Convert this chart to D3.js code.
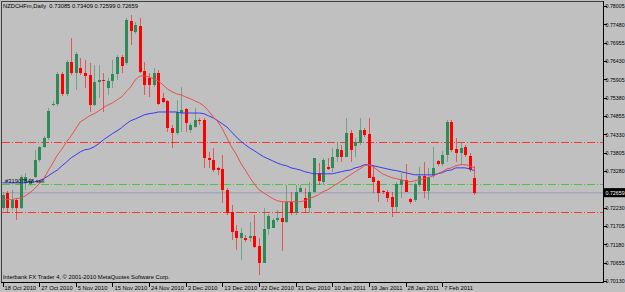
<!DOCTYPE html>
<html lang="en">
<head>
<meta charset="UTF-8">
<title>NZDCHFm, Daily</title>
<script src="https://d3js.org/d3.v7.min.js"></script>
<style>
  body { margin: 0; background: #c0c0c0; overflow: hidden; }
  svg { display: block; }
  text { font-family: "Liberation Sans", Arial, sans-serif; font-size: 5.8px; }
  .axis path, .axis line { stroke: #000; shape-rendering: crispEdges; }
</style>
</head>
<body>
<script>
// daily bars, 18 Oct 2010 .. 15 Feb 2011
const opens = [
  .72228, .72657, .72228, .72457, .72228, .72943, .72915, .73115, .73601, .73973,
  .74230, .75174, .75203, .76061, .75489, .76404, .76089, .76232, .76089, .76032,
  .75174, .75832, .75889, .75660, .75860, .76061, .76547, .76375, .77576, .77262,
  .77433, .76146, .75946, .75746, .76089, .75374, .75288, .74516, .74373, .74945,
  .75060, .74459, .74545, .74745, .74745, .73658, .73601, .73372, .73344, .72743,
  .72114, .71570, .71370, .71370, .71370, .71427, .71141, .70655, .71628, .71656,
  .71885, .71942, .71828, .72400, .72085, .72686, .72514, .72228, .72686, .73229,
  .72972, .73401, .73372, .73687, .73887, .73687, .74373, .74001, .74087, .74459,
  .74345, .73115, .73000, .72714, .72686, .72543, .72257, .72886, .73029, .72486,
  .72457, .72886, .73143, .72714, .73143, .73572, .73487, .73744, .74688, .73916,
  .73801, .73973, .73715, .73085
];
const highs = [
  .72686, .72714, .72743, .72514, .73172, .73229, .73086, .73887, .74001, .74287,
  .75088, .75288, .76118, .76118, .76461, .77090, .76690, .76518, .76461, .76375,
  .76318, .76318, .76089, .75946, .76461, .76604, .76604, .77662, .77748, .77548,
  .77662, .76404, .76089, .76232, .76175, .75517, .75317, .74602, .75317, .75689,
  .75088, .74659, .75088, .74802, .74802, .73830, .73944, .73401, .73744, .72800,
  .72314, .71742, .71656, .71456, .71828, .72028, .71370, .72228, .72057, .71942,
  .72171, .72400, .72886, .72686, .72886, .72886, .72800, .72972, .73658, .73515,
  .73658, .73658, .73944, .74116, .74030, .74802, .74459, .74230, .74802, .74516,
  .74802, .73458, .73029, .72743, .72743, .72686, .72972, .73229, .73487, .72514,
  .72972, .73401, .73544, .73372, .73973, .73601, .73858, .74745, .74745, .74230,
  .74116, .74030, .73801, .73409
];
const lows = [
  .72171, .72085, .72171, .71885, .72200, .72743, .72857, .73086, .73544, .73944,
  .74173, .75145, .75145, .75431, .75431, .76032, .75603, .76032, .75660, .74974,
  .75145, .75374, .74974, .75460, .75660, .75889, .76089, .76318, .76890, .77205,
  .76089, .75460, .75403, .75689, .75174, .75231, .74402, .73944, .74316, .74402,
  .74402, .74373, .74516, .74602, .73372, .73372, .73258, .73172, .72371, .72028,
  .71313, .71027, .70741, .71256, .71256, .71084, .70312, .70655, .71456, .71656,
  .71828, .70998, .71799, .72028, .72028, .72686, .72085, .72085, .72657, .72886,
  .72886, .73315, .73258, .73544, .73544, .73687, .73544, .73687, .74030, .74259,
  .73086, .72657, .72400, .72629, .72400, .71971, .72114, .72514, .72686, .72343,
  .72400, .72829, .72514, .72457, .73086, .73429, .73429, .73544, .73830, .73544,
  .73458, .73687, .73258, .72599
];
const closes = [
  .72600, .72228, .72457, .72228, .73115, .73115, .73000, .73601, .73973, .74230,
  .75002, .75203, .76061, .75489, .76404, .76089, .76633, .76089, .76003, .75174,
  .75832, .75889, .75860, .75860, .76061, .76547, .76289, .77605, .77290, .77462,
  .76118, .75746, .75746, .76089, .75203, .75260, .74516, .74373, .74974, .75031,
  .74659, .74602, .74745, .74716, .73658, .73601, .73315, .73315, .72743, .72085,
  .71542, .71370, .71513, .71313, .71427, .71113, .70655, .71628, .71999, .71885,
  .71942, .71828, .72400, .72085, .72686, .72800, .72228, .72686, .73658, .73000,
  .73601, .73344, .73687, .73916, .73687, .74373, .73887, .74116, .74459, .74316,
  .73086, .72972, .72657, .72686, .72514, .72257, .72915, .73029, .72686, .72400,
  .72915, .73143, .72714, .73115, .73372, .73487, .73744, .74688, .73887, .73801,
  .73944, .73744, .73315, .72659
];
// moving averages as drawn on the chart
const maFast = [
  .7246, .7246, .7246, .7249, .7251, .7257, .7266, .7277, .7291, .7306,
  .7329, .7351, .7374, .7391, .7412, .7429, .7449, .7469, .7477, .7486,
  .7492, .7500, .7509, .7517, .7523, .7532, .7540, .7555, .7569, .7589,
  .7600, .7600, .7598, .7592, .7586, .7575, .7563, .7555, .7549, .7546,
  .7540, .7535, .7529, .7523, .7514, .7500, .7483, .7469, .7449, .7423,
  .7397, .7377, .7351, .7331, .7309, .7291, .7274, .7266, .7257, .7249,
  .7243, .7240, .7240, .7240, .7240, .7240, .7243, .7249, .7254, .7260,
  .7269, .7274, .7283, .7291, .7300, .7309, .7317, .7326, .7334, .7343,
  .7346, .7340, .7329, .7320, .7314, .7309, .7306, .7303, .7300, .7297,
  .7300, .7303, .7306, .7309, .7314, .7320, .7326, .7334, .7337, .7343,
  .7346, .7346, .7343, .7337
];
const maSlow = [
  .7294, .7294, .7294, .7294, .7294, .7294, .7297, .7297, .7300, .7306,
  .7314, .7323, .7331, .7343, .7354, .7366, .7374, .7383, .7389, .7391,
  .7397, .7406, .7417, .7426, .7435, .7443, .7452, .7463, .7472, .7477,
  .7483, .7489, .7492, .7494, .7497, .7497, .7497, .7497, .7497, .7494,
  .7494, .7494, .7494, .7494, .7492, .7486, .7480, .7472, .7463, .7454,
  .7440, .7426, .7414, .7403, .7394, .7386, .7377, .7369, .7363, .7357,
  .7351, .7346, .7343, .7337, .7334, .7331, .7326, .7323, .7320, .7320,
  .7320, .7320, .7320, .7323, .7326, .7329, .7331, .7337, .7340, .7346,
  .7346, .7343, .7340, .7337, .7334, .7331, .7329, .7326, .7323, .7320,
  .7317, .7317, .7317, .7317, .7317, .7320, .7323, .7329, .7331, .7337,
  .7337, .7337, .7334, .7329
];
const tickBars = [0, 8, 16, 24, 32, 40, 48, 56, 64, 72, 80, 88, 96];
const tickLabels = ["18 Oct 2010", "27 Oct 2010", "5 Nov 2010", "15 Nov 2010", "24 Nov 2010",
  "3 Dec 2010", "13 Dec 2010", "22 Dec 2010", "31 Dec 2010", "10 Jan 2011", "19 Jan 2011",
  "28 Jan 2011", "7 Feb 2011"];
const priceTicks = [0.78005, 0.77480, 0.76955, 0.76430, 0.75905, 0.75380, 0.74855, 0.74330,
  0.73805, 0.73280, 0.72755, 0.72230, 0.71705, 0.71180, 0.70655, 0.70130];
const redLevels = [0.74096, 0.72097];
const greenLevel = 0.72899;
const bid = 0.72659;
const header = "NZDCHFm,Daily  0.73085 0.73409 0.72599 0.72659";
const orderText = "#31907548 sell";
const footer = "Interbank FX Trader 4, \u00a9 2001-2010 MetaQuotes Software Corp.";

const W = 625, H = 292;
const plotL = 1, plotT = 1, plotR = 603, plotB = 282;
const fontFam = '"Liberation Sans", Arial, sans-serif';

const svg = d3.select("body").append("svg").attr("width", W).attr("height", H);
svg.append("rect").attr("width", W).attr("height", H).attr("fill", "#c0c0c0");

const x = d3.scaleLinear().domain([0, 103]).range([2.5, 2.5 + 4.58 * 103]);
const y = d3.scaleLinear().domain([0.70130, 0.78005]).range([281, 6]);

// horizontal levels (red stop/target, green entry, grey bid)
const lvl = svg.append("g");
const levelLine = (price, color) => lvl.append("line")
  .attr("x1", plotL + 1).attr("x2", plotR)
  .attr("y1", Math.floor(y(price)) + 0.5).attr("y2", Math.floor(y(price)) + 0.5)
  .attr("stroke", color).attr("stroke-width", 1).attr("stroke-dasharray", "8,2,1,2");
redLevels.forEach(p => levelLine(p, "#ff3434"));
levelLine(greenLevel, "#46c846");
lvl.append("line")
  .attr("x1", plotL + 1).attr("x2", plotR)
  .attr("y1", y(bid)).attr("y2", y(bid))
  .attr("stroke", "#a4a8b6").attr("stroke-width", 1.5);

// candles
const idx = d3.range(opens.length);
const candles = svg.append("g").attr("shape-rendering", "crispEdges");
const col = i => closes[i] >= opens[i] ? "#2e8b57" : "#ff0000";
candles.selectAll("line").data(idx).enter().append("line")
  .attr("x1", i => Math.round(x(i)) + 0.5).attr("x2", i => Math.round(x(i)) + 0.5)
  .attr("y1", i => y(highs[i])).attr("y2", i => y(lows[i]))
  .attr("stroke", col).attr("stroke-opacity", 0.55);
candles.selectAll("rect").data(idx).enter().append("rect")
  .attr("x", i => Math.round(x(i)) - 1)
  .attr("width", 3)
  .attr("y", i => y(Math.max(opens[i], closes[i])))
  .attr("height", i => Math.max(1, Math.abs(y(opens[i]) - y(closes[i]))))
  .attr("fill", col);

// moving averages
const line = d3.line().x((d, i) => x(i)).y(d => y(d));
svg.append("path").attr("d", line(maSlow)).attr("fill", "none")
  .attr("stroke", "#3a3af0").attr("stroke-width", 1);
svg.append("path").attr("d", line(maFast)).attr("fill", "none")
  .attr("stroke", "#e8504a").attr("stroke-width", 1);

// order label
svg.append("text").attr("x", 5).attr("y", 182.5).style("fill", "#101010").text(orderText);

// frame
svg.append("path")
  .attr("d", `M${plotL + 0.5},${plotB + 0.5}V${plotT + 0.5}H${plotR + 0.5}`)
  .attr("fill", "none").attr("stroke", "#404040").attr("shape-rendering", "crispEdges");

// price axis
const yAxis = svg.append("g").attr("class", "axis")
  .attr("transform", `translate(${plotR + 0.5},0)`)
  .call(d3.axisRight(y).tickValues(priceTicks).tickSize(3).tickSizeOuter(0)
    .tickFormat(d3.format(".5f")));
yAxis.select(".domain").attr("d", `M0,${plotT}V${plotB + 1}`);
yAxis.selectAll("text").attr("x", 2).attr("dy", "0.35em")
  .style("font-size", "5.3px").style("font-family", fontFam).style("fill", "#000");

// time axis
const xAxis = svg.append("g").attr("class", "axis")
  .attr("transform", `translate(0,${plotB + 0.5})`)
  .call(d3.axisBottom(x).tickValues(tickBars).tickSize(4).tickSizeOuter(0)
    .tickFormat((d, i) => tickLabels[i]));
xAxis.select(".domain").attr("d", `M${plotL},0H${plotR + 1}`);
xAxis.selectAll("text").attr("text-anchor", "start").attr("x", 1.5).attr("y", 3).attr("dy", "0.71em")
  .style("font-size", "5.8px").style("font-family", fontFam).style("fill", "#000");

// bid label
const bidY = y(bid);
svg.append("rect").attr("x", plotR + 1).attr("y", bidY - 4.5).attr("width", W - plotR).attr("height", 9)
  .attr("fill", "#000");
svg.append("text").attr("x", plotR + 2.5).attr("y", bidY).attr("dy", "0.35em")
  .style("font-size", "5.3px").style("fill", "#fff").text(d3.format(".5f")(bid));

// header and footer
svg.append("text").attr("x", 3).attr("y", 8).attr("xml:space", "preserve").style("fill", "#000").text(header);
svg.append("text").attr("x", 3).attr("y", 279).style("fill", "#000").text(footer);
</script>
</body>
</html>
